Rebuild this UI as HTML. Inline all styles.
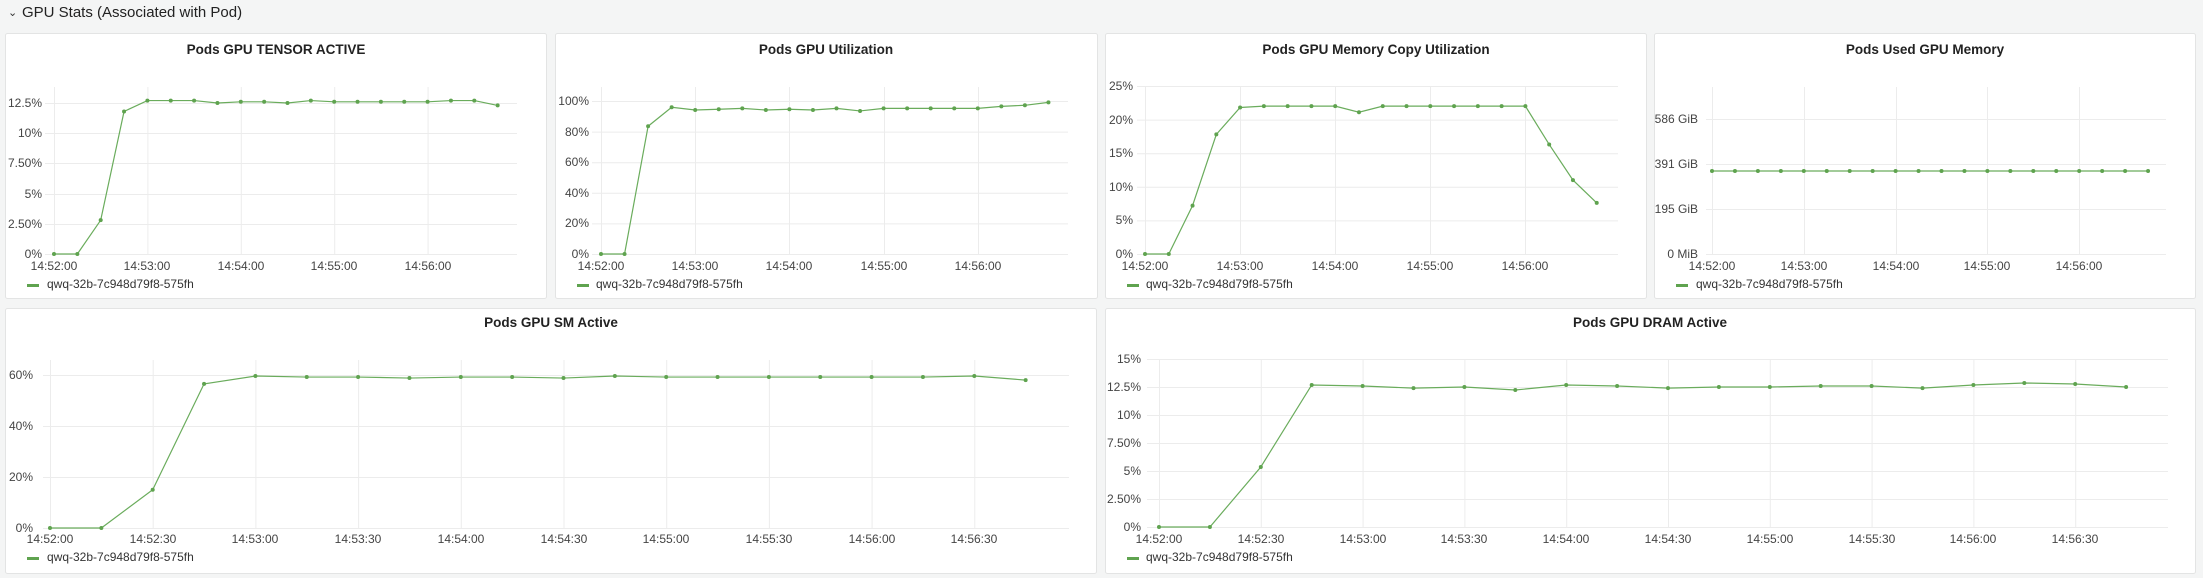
<!DOCTYPE html>
<html><head><meta charset="utf-8"><style>
html,body{margin:0;padding:0;background:#f4f5f5;width:2203px;height:578px;overflow:hidden}
svg{display:block}
text{font-family:"Liberation Sans",sans-serif}
.t{font-size:13.5px;font-weight:bold;fill:#222;text-anchor:middle}
.yl{font-size:12px;fill:#444;text-anchor:end}
.xl{font-size:12px;fill:#444;text-anchor:middle}
.lg{font-size:12px;fill:#333}
</style></head><body>
<svg id="s" width="2203" height="578" xmlns="http://www.w3.org/2000/svg">
<text x="22" y="17" style="font-size:15px;fill:#222">GPU Stats (Associated with Pod)</text>
<text x="8" y="16" style="font-size:11px;fill:#333">⌄</text>
<g fill="#fff" stroke="#e3e4e4">
<rect x="5.5" y="33.5" width="541" height="265" rx="2"/>
<rect x="555.5" y="33.5" width="542" height="265" rx="2"/>
<rect x="1105.5" y="33.5" width="541" height="265" rx="2"/>
<rect x="1654.5" y="33.5" width="541" height="265" rx="2"/>
<rect x="5.5" y="308.5" width="1091" height="265" rx="2"/>
<rect x="1105.5" y="308.5" width="1090" height="265" rx="2"/>
</g>
<g id="grid" stroke="#ececec" stroke-width="1"></g>
<g id="series"></g>
<text class="t" x="276" y="54">Pods GPU TENSOR ACTIVE</text>
<text class="t" x="826" y="54">Pods GPU Utilization</text>
<text class="t" x="1376" y="54">Pods GPU Memory Copy Utilization</text>
<text class="t" x="1925" y="54">Pods Used GPU Memory</text>
<text class="t" x="551" y="327">Pods GPU SM Active</text>
<text class="t" x="1650" y="327">Pods GPU DRAM Active</text>
<!-- P1 -->
<text class="yl" x="42" y="258">0%</text><text class="yl" x="42" y="228">2.50%</text><text class="yl" x="42" y="198">5%</text><text class="yl" x="42" y="167">7.50%</text><text class="yl" x="42" y="137">10%</text><text class="yl" x="42" y="107">12.5%</text>
<text class="xl" x="54" y="270">14:52:00</text><text class="xl" x="147" y="270">14:53:00</text><text class="xl" x="241" y="270">14:54:00</text><text class="xl" x="334" y="270">14:55:00</text><text class="xl" x="428" y="270">14:56:00</text>
<text class="lg" x="47" y="288">qwq-32b-7c948d79f8-575fh</text>
<!-- P2 -->
<text class="yl" x="589" y="258">0%</text><text class="yl" x="589" y="227">20%</text><text class="yl" x="589" y="197">40%</text><text class="yl" x="589" y="166">60%</text><text class="yl" x="589" y="136">80%</text><text class="yl" x="589" y="105">100%</text>
<text class="xl" x="601" y="270">14:52:00</text><text class="xl" x="695" y="270">14:53:00</text><text class="xl" x="789" y="270">14:54:00</text><text class="xl" x="884" y="270">14:55:00</text><text class="xl" x="978" y="270">14:56:00</text>
<text class="lg" x="596" y="288">qwq-32b-7c948d79f8-575fh</text>
<!-- P3 -->
<text class="yl" x="1133" y="258">0%</text><text class="yl" x="1133" y="224">5%</text><text class="yl" x="1133" y="191">10%</text><text class="yl" x="1133" y="157">15%</text><text class="yl" x="1133" y="124">20%</text><text class="yl" x="1133" y="90">25%</text>
<text class="xl" x="1145" y="270">14:52:00</text><text class="xl" x="1240" y="270">14:53:00</text><text class="xl" x="1335" y="270">14:54:00</text><text class="xl" x="1430" y="270">14:55:00</text><text class="xl" x="1525" y="270">14:56:00</text>
<text class="lg" x="1146" y="288">qwq-32b-7c948d79f8-575fh</text>
<!-- P4 -->
<text class="yl" x="1698" y="258">0 MiB</text><text class="yl" x="1698" y="213">195 GiB</text><text class="yl" x="1698" y="168">391 GiB</text><text class="yl" x="1698" y="123">586 GiB</text>
<text class="xl" x="1712" y="270">14:52:00</text><text class="xl" x="1804" y="270">14:53:00</text><text class="xl" x="1896" y="270">14:54:00</text><text class="xl" x="1987" y="270">14:55:00</text><text class="xl" x="2079" y="270">14:56:00</text>
<text class="lg" x="1696" y="288">qwq-32b-7c948d79f8-575fh</text>
<!-- P5 -->
<text class="yl" x="33" y="532">0%</text><text class="yl" x="33" y="481">20%</text><text class="yl" x="33" y="430">40%</text><text class="yl" x="33" y="379">60%</text>
<text class="xl" x="50" y="543">14:52:00</text><text class="xl" x="153" y="543">14:52:30</text><text class="xl" x="255" y="543">14:53:00</text><text class="xl" x="358" y="543">14:53:30</text><text class="xl" x="461" y="543">14:54:00</text><text class="xl" x="564" y="543">14:54:30</text><text class="xl" x="666" y="543">14:55:00</text><text class="xl" x="769" y="543">14:55:30</text><text class="xl" x="872" y="543">14:56:00</text><text class="xl" x="974" y="543">14:56:30</text>
<text class="lg" x="47" y="561">qwq-32b-7c948d79f8-575fh</text>
<!-- P6 -->
<text class="yl" x="1141" y="531">0%</text><text class="yl" x="1141" y="503">2.50%</text><text class="yl" x="1141" y="475">5%</text><text class="yl" x="1141" y="447">7.50%</text><text class="yl" x="1141" y="419">10%</text><text class="yl" x="1141" y="391">12.5%</text><text class="yl" x="1141" y="363">15%</text>
<text class="xl" x="1159" y="543">14:52:00</text><text class="xl" x="1261" y="543">14:52:30</text><text class="xl" x="1363" y="543">14:53:00</text><text class="xl" x="1464" y="543">14:53:30</text><text class="xl" x="1566" y="543">14:54:00</text><text class="xl" x="1668" y="543">14:54:30</text><text class="xl" x="1770" y="543">14:55:00</text><text class="xl" x="1872" y="543">14:55:30</text><text class="xl" x="1973" y="543">14:56:00</text><text class="xl" x="2075" y="543">14:56:30</text>
<text class="lg" x="1146" y="561">qwq-32b-7c948d79f8-575fh</text>
</svg>
<script>
var NS="http://www.w3.org/2000/svg";
function el(p,n,a){var e=document.createElementNS(NS,n);for(var k in a)e.setAttribute(k,a[k]);p.appendChild(e);return e;}
var G=document.getElementById("grid"),S=document.getElementById("series");
var P=[
{x0:54,dx:93.4/4,gl:45,gr:517,gt:87,y0:254,yt:[254,224,194,163,133,103],xt:[54,147.4,240.8,334.2,427.6],vpp:30.2/2.5,sw:27,ly:284,
 v:[0,0,2.8,11.8,12.7,12.7,12.7,12.5,12.6,12.6,12.5,12.7,12.6,12.6,12.6,12.6,12.6,12.7,12.7,12.3]},
{x0:601,dx:94.2/4,gl:592,gr:1068,gt:87,y0:254,yt:[254,223.4,192.8,162.2,131.6,101],xt:[601,695,789,884,978],vpp:30.6/20,sw:577,ly:284,
 v:[0,0,83.5,95.9,94.1,94.6,95.2,94.1,94.6,94.1,95.2,93.5,95.2,95.2,95.2,95.2,95.2,96.5,97.2,99.1]},
{x0:1145,dx:95.1/4,gl:1137,gr:1618,gt:86,y0:254,yt:[254,220.4,186.8,153.2,119.6,86],xt:[1145,1240,1335,1430,1525],vpp:33.6/5,sw:1127,ly:284,
 v:[0,0,7.2,17.8,21.8,22,22,22,22,21.1,22,22,22,22,22,22,22,16.3,11,7.6]},
{x0:1712,dx:91.8/4,gl:1706,gr:2166,gt:87,y0:254,yt:[254,209,164,119],xt:[1712,1804,1896,1987,2079],vpp:1,sw:1676,ly:284,
 v:Array(20).fill(83)},
{x0:50,dx:102.7/2,gl:43,gr:1069,gt:360,y0:528,yt:[528,477,426,375],xt:[50,152.7,255.4,358.1,460.8,563.5,666.2,768.9,871.6,974.3],vpp:51/20,sw:27,ly:557,
 v:[0,0,15,56.5,59.6,59.2,59.2,58.8,59.2,59.2,58.8,59.6,59.2,59.2,59.2,59.2,59.2,59.2,59.6,58]},
{x0:1159,dx:101.8/2,gl:1147,gr:2168,gt:360,y0:527,yt:[527,499,471,443,415,387,359],xt:[1159,1260.8,1362.6,1464.4,1566.2,1668,1769.8,1871.6,1973.4,2075.2],vpp:28/2.5,sw:1127,ly:557,
 v:[0,0,5.36,12.68,12.59,12.4,12.5,12.23,12.68,12.59,12.4,12.5,12.5,12.59,12.59,12.4,12.68,12.86,12.77,12.5]}
];
P.forEach(function(p){
 p.yt.forEach(function(y){el(G,"line",{x1:p.gl,x2:p.gr,y1:y+.5,y2:y+.5});});
 p.xt.forEach(function(x){el(G,"line",{x1:x+.5,x2:x+.5,y1:p.gt,y2:p.y0});});
 var pts=p.v.map(function(v,i){return [p.x0+i*p.dx,p.y0-v*p.vpp];});
 el(S,"polyline",{points:pts.map(function(a){return a.join(",")}).join(" "),fill:"none",stroke:"#6aac5c","stroke-width":1.2});
 pts.forEach(function(a){el(S,"circle",{cx:a[0],cy:a[1],r:2,fill:"#5fa34f"});});
 el(S,"rect",{x:p.sw,y:p.ly,width:12,height:3,fill:"#5fa34f"});
});
</script>
</body></html>
